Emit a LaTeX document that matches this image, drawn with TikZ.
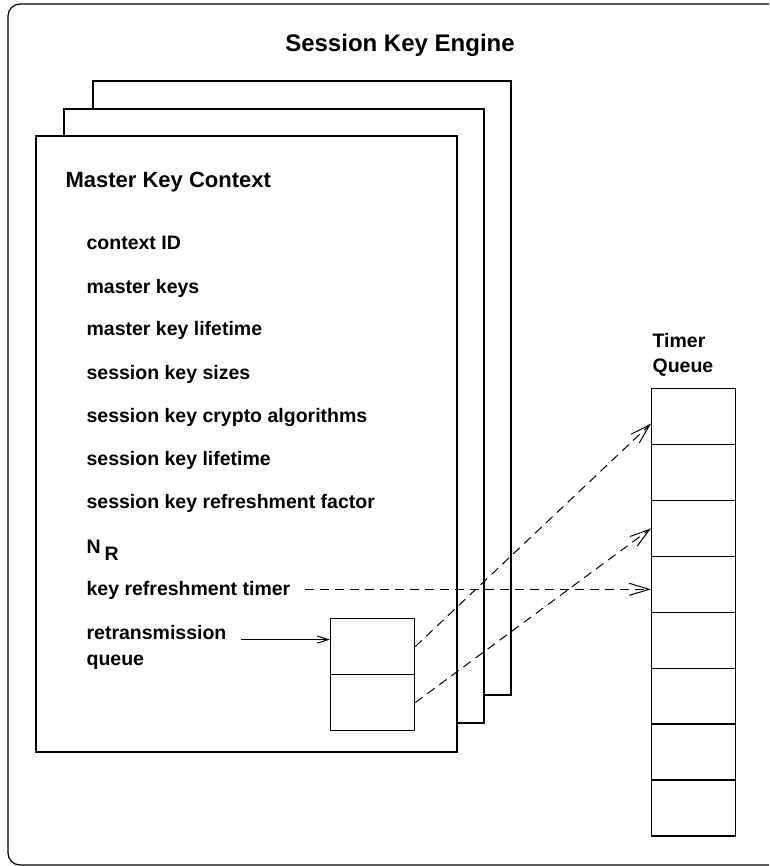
\documentclass[tikz,border=0pt]{standalone}
\usepackage{fontspec}
\setmainfont{Liberation Sans}
\usetikzlibrary{arrows.meta}
\begin{document}
\begin{tikzpicture}[x=1pt,y=-1pt,
  line width=1.2pt,
  font=\bfseries\fontsize{19.5}{23}\selectfont,
  frame/.style={draw,fill=white},
  cell/.style={draw,fill=white,minimum width=84pt,minimum height=56pt,inner sep=0pt,anchor=north west},
  item/.style={inner sep=0pt,anchor=base west},
  link/.style={-{Straight Barb[length=11pt,width=7pt,line width=1pt]},line width=1pt},
  dlink/.style={-{Straight Barb[length=20pt,width=12pt,line width=1pt]},line width=1pt,dash pattern=on 9pt off 6pt}]
\useasboundingbox (0,0) rectangle (769,866);
\clip (0,0) rectangle (769,866);

% engine frame, running past the right edge
\draw[rounded corners=12pt] (8,4) rectangle (900,865);
\node[item,anchor=base,font=\bfseries\fontsize{24}{28}\selectfont] (title) at (400,52) {Session Key Engine};

% stacked master key contexts
\draw[frame] (93,81) rectangle (511,695);
\draw[frame] (64,109) rectangle (484,723);
\draw[frame] (36,136) rectangle (457,752);

\node[item,font=\bfseries\fontsize{22}{26}\selectfont] (mkc) at (65,188) {Master Key Context};
\node[item] (cid) at (86,250) {context ID};
\node[item] (mk)  at (86,293) {master keys};
\node[item] (mkl) at (86,335) {master key lifetime};
\node[item] (sks) at (86,379) {session key sizes};
\node[item] (skc) at (86,422) {session key crypto algorithms};
\node[item] (skl) at (86,465) {session key lifetime};
\node[item] (skr) at (86,508) {session key refreshment factor};
\node[item] (nr)  at (86,553) {N\kern4pt\lower7pt\hbox{R}};
\node[item] (krt) at (86,595) {key refreshment timer};
\node[item] (rtq) at (86,639) {\vtop{\baselineskip=26.5pt\hbox{retransmission}\hbox{queue}}};

% retransmission queue cells
\node[cell] (rq1) at (330,618) {};
\node[cell] (rq2) at (330,674) {};

% timer queue
\node[item] (tql) at (652,347) {\vtop{\baselineskip=25pt\hbox{Timer}\hbox{Queue}}};
\foreach \i in {1,...,8}{
  \node[cell] (tq\i) at (651,{388+(\i-1)*55.9}) {};
}

% connectors
\coordinate (rqin) at ([yshift=7pt]rq1.west);
\draw[link] ([xshift=14pt]rtq.east |- rqin) -- (rqin);
\coordinate (tqin) at ([yshift=-5pt]tq4.west);
\draw[dlink] ([xshift=14pt]krt.east |- tqin) -- (tqin);
\draw[dlink] (rq1.east) -- ([yshift=-7pt]tq1.west);
\draw[dlink] (rq2.east) -- (tq3.west);
\end{tikzpicture}
\end{document}
